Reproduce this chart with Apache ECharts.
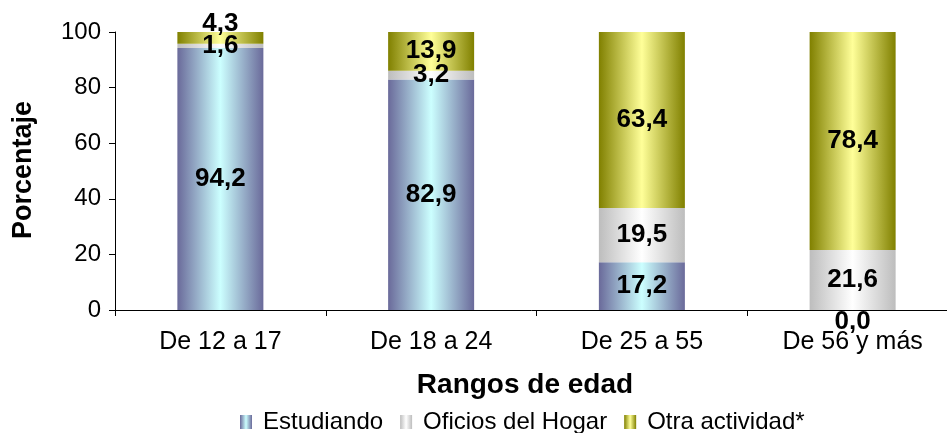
<!DOCTYPE html>
<html><head><meta charset="utf-8">
<script src="https://cdn.jsdelivr.net/npm/echarts@6/dist/echarts.min.js"></script>
<style>html,body{margin:0;padding:0;background:#fff}#c{width:947px;height:433px}</style>
</head><body><div id="c"></div>
<script>
const categories = ['De 12 a 17', 'De 18 a 24', 'De 25 a 55', 'De 56 y más'];
const estudiando = [94.2, 82.9, 17.2, 0.0];
const oficios = [1.6, 3.2, 19.5, 21.6];
const otra = [4.3, 13.9, 63.4, 78.4];
const yTicks = [0, 20, 40, 60, 80, 100];
const seriesNames = ['Estudiando', 'Oficios del Hogar', 'Otra actividad*'];

const FONT = '"Liberation Sans", Arial, sans-serif';
function grad(edge, mid) {
  return new echarts.graphic.LinearGradient(0, 0, 1, 0, [
    {offset: 0, color: edge}, {offset: 0.5, color: mid}, {offset: 1, color: edge}
  ]);
}
const fmt = v => v.toFixed(1).replace('.', ',');
const labelBase = {show: true, position: 'inside', color: '#000', fontFamily: FONT, fontWeight: 'bold', fontSize: 26,
  formatter: p => fmt(p.value)};

function mk(name, vals, color, offsets) {
  return {
    name, type: 'bar', stack: 'a', barWidth: 86,
    itemStyle: {color},
    label: labelBase,
    data: vals.map((v, i) => offsets && offsets[i] ? {value: v, label: {offset: offsets[i]}} : v)
  };
}

const chart = echarts.init(document.getElementById('c'));
chart.setOption({
  animation: false,
  grid: {left: 115, top: 32, width: 843, height: 278, outerBoundsMode: 'none', containLabel: false},
  legend: {
    data: seriesNames, left: 235, top: 405, icon: 'rect', itemWidth: 12, itemHeight: 14, itemGap: 17,
    textStyle: {fontFamily: FONT, fontSize: 24, color: '#000', padding: [0, 0, 0, 6]}
  },
  xAxis: {
    type: 'category', data: categories,
    axisLine: {lineStyle: {color: '#000'}},
    axisTick: {show: true, alignWithLabel: false, length: 6, lineStyle: {color: '#000'}},
    axisLabel: {color: '#000', fontFamily: FONT, fontSize: 25, margin: 20}
  },
  yAxis: {
    type: 'value', min: 0, max: 100, interval: 20,
    axisLine: {show: true, lineStyle: {color: '#000'}},
    axisTick: {show: true, length: 6, lineStyle: {color: '#000'}},
    splitLine: {show: false},
    axisLabel: {color: '#000', fontFamily: FONT, fontSize: 24, margin: 14,
      customValues: yTicks}
  },
  graphic: [
    {type: 'text', x: 525, y: 385, style: {text: 'Rangos de edad', fill: '#000', font: 'bold 28px ' + FONT, textAlign: 'center', textVerticalAlign: 'middle'}},
    {type: 'text', x: 24, y: 170, rotation: Math.PI / 2, style: {text: 'Porcentaje', fill: '#000', font: 'bold 27px ' + FONT, textAlign: 'center', textVerticalAlign: 'middle'}}
  ],
  series: [
    mk(seriesNames[0], estudiando, grad('#6a6a9a', '#ccffff'), {3: [0, 12]}),
    mk(seriesNames[1], oficios, grad('#bdbdbd', '#ffffff')),
    mk(seriesNames[2], otra, grad('#808000', '#ffff99'), {0: [0, -14]})
  ]
});
</script></body></html>
